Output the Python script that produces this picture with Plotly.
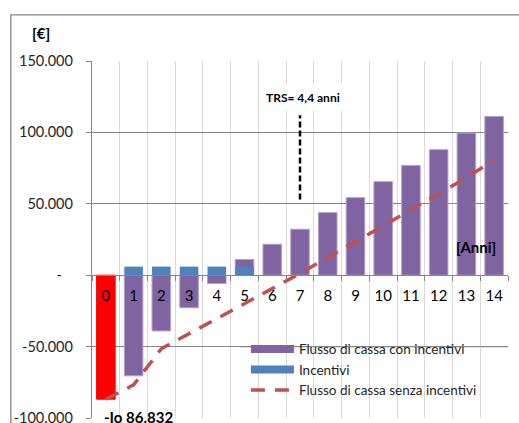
import plotly.graph_objects as go

# anni del periodo di analisi
anni = [str(i) for i in range(15)]

# flusso di cassa cumulato con incentivi (anno 0 = investimento iniziale)
flusso_con_incentivi = [-86832, -70500, -39000, -22800, -5800, 11000, 21700, 32200,
                        43800, 54300, 65500, 76900, 87900, 99500, 111200]
# incentivi annui
incentivi = [0, 6000, 6000, 6000, 6000, 6000, 0, 0, 0, 0, 0, 0, 0, 0, 0]
# flusso di cassa cumulato senza incentivi
flusso_senza_incentivi = [-86832, -76800, -51500, -41000, -30300, -19500, -9300, 1200,
                          12500, 23200, 34500, 45800, 57000, 68200, 80800]

# linea tratteggiata del tempo di ritorno semplice
trs_x = ["7", "7"]
trs_y = [53000, 112000]

y_tick_vals = [-100000, -50000, 0, 50000, 100000, 150000]
y_tick_text = ["-100.000", "-50.000", "-\u00a0\u00a0\u00a0", "50.000", "100.000", "150.000"]

VIOLA = "#8064A2"
BLU = "#4F81BD"
ROSSO = "#C0504D"
GRIGIO = "#868686"
FONT = "Lato, sans-serif"

colori_barre = ["#FF0000"] + [VIOLA] * (len(anni) - 1)
bordi_barre = ["#FF0000"] + ["#B3A2C7"] * (len(anni) - 1)

fig = go.Figure()

fig.add_trace(go.Bar(
    x=anni, y=flusso_con_incentivi,
    marker=dict(color=colori_barre, line=dict(color=bordi_barre, width=1)),
    showlegend=False,
))
fig.add_trace(go.Bar(
    x=anni, y=incentivi,
    marker=dict(color=BLU, line=dict(width=0)),
    showlegend=False,
))
fig.add_trace(go.Scatter(
    x=anni, y=flusso_senza_incentivi,
    mode="lines",
    line=dict(color=ROSSO, width=3.5, dash="14px,10px"),
    showlegend=False,
))
fig.add_trace(go.Scatter(
    x=trs_x, y=trs_y,
    mode="lines",
    line=dict(color="black", width=2.5, dash="6px,3px"),
    showlegend=False,
))

# voci di legenda con simboli a barra larga
fig.add_trace(go.Scatter(x=[None], y=[None], mode="lines", name="Flusso di cassa con incentivi",
                         line=dict(color=VIOLA, width=8)))
fig.add_trace(go.Scatter(x=[None], y=[None], mode="lines", name="Incentivi",
                         line=dict(color=BLU, width=8)))
fig.add_trace(go.Scatter(x=[None], y=[None], mode="lines", name="Flusso di cassa senza incentivi",
                         line=dict(color=ROSSO, width=3.5, dash="14px,10px")))

fig.update_layout(
    width=519, height=423,
    margin=dict(l=92, r=11, t=61, b=5, autoexpand=False),
    paper_bgcolor="white",
    plot_bgcolor="white",
    barmode="overlay",
    bargap=0.33,
    font=dict(family=FONT, color="#262626", size=14),
    legend=dict(
        x=0.37, y=0.236, xanchor="left", yanchor="top",
        bgcolor="rgba(0,0,0,0)",
        font=dict(size=13.5, color="#262626"),
        itemwidth=43,
        tracegroupgap=0,
    ),
    shapes=[
        # cornice esterna del grafico
        dict(type="rect", xref="paper", yref="paper", x0=-0.195, x1=1.05, y0=-0.05, y1=1.129,
             line=dict(color=GRIGIO, width=1.3), layer="below"),
        # sfondo della legenda
        dict(type="rect", xref="paper", yref="paper", x0=0.356, x1=0.993, y0=0.014, y1=0.218,
             fillcolor="white", line=dict(width=0), layer="between"),
        dict(type="line", xref="paper", yref="y", x0=0.356, x1=1, y0=-50000, y1=-50000,
             line=dict(color=GRIGIO, width=1.3), layer="between"),
    ],
    annotations=[
        dict(text="<b>[€]</b>", xref="paper", yref="paper", x=-0.148, y=1.109,
             showarrow=False, font=dict(size=15, color="black")),
        dict(text="<b>TRS= 4,4 anni</b>", x=7, y=124500, showarrow=False, xshift=3,
             bgcolor="white", borderpad=5, font=dict(size=12, color="black")),
        dict(text="<b>[Anni]</b>", x=13.35, y=19600, showarrow=False,
             font=dict(size=15, color="black")),
        dict(text="<b>-Io 86.832</b>", x=0, y=-86832, xanchor="left", yanchor="middle",
             xshift=-4, yshift=-18, showarrow=False, font=dict(size=15, color="black")),
    ],
)

fig.update_xaxes(
    type="category",
    range=[-0.5, 14.5],
    anchor="free", position=0.4,
    automargin=False,
    showline=True, linecolor=GRIGIO, linewidth=1.3,
    ticks="outside", tickson="boundaries", ticklen=5, tickcolor=GRIGIO,
    showgrid=True, gridcolor="#D9D9D9", gridwidth=1.3,
    tickfont=dict(size=15, color="black"),
    ticklabelstandoff=7,
)
fig.update_yaxes(
    range=[-100000, 150000],
    tickvals=y_tick_vals, ticktext=y_tick_text,
    automargin=False,
    showline=True, linecolor=GRIGIO, linewidth=1.3,
    ticks="outside", ticklen=5, tickcolor=GRIGIO,
    showgrid=True, gridcolor=GRIGIO, gridwidth=1.3,
    zeroline=True, zerolinecolor=GRIGIO, zerolinewidth=1.3,
    tickfont=dict(size=14.5, color="#262626"),
    ticklabelstandoff=10,
    ticklabeloverflow="allow",
)

fig.write_html("out.html", config={"displayModeBar": False},
               post_script="document.body.style.margin='0';")
